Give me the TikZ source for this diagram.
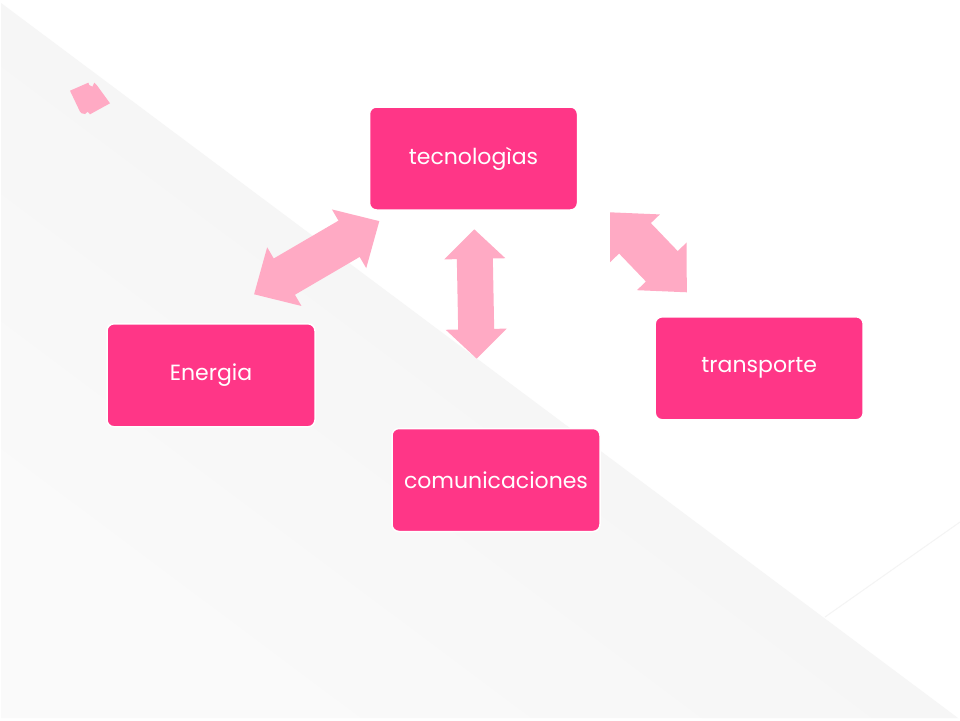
\documentclass[tikz,border=0pt]{standalone}
\usepackage{fontspec}
\setmainfont{Poppins}
\usetikzlibrary{calc}
\definecolor{boxpink}{RGB}{255,54,135}
\definecolor{arrpink}{RGB}{255,170,196}
\definecolor{bggrey}{RGB}{242,242,242}
\definecolor{bglight}{RGB}{250,250,250}
\definecolor{faintline}{RGB}{244,244,244}
\tikzset{
  catbox/.style={rectangle, rounded corners=7pt, fill=boxpink, draw=white,
    line width=1.5pt, minimum width=208pt, minimum height=103pt,
    text=white, font=\fontsize{22}{26}\selectfont, inner sep=0pt},
  pics/dblarrow/.style n args={4}{code={
    \fill[arrpink] (-#1/2,0) -- (-#1/2+#4,#3/2) -- (-#1/2+#4,#2/2)
      -- (#1/2-#4,#2/2) -- (#1/2-#4,#3/2) -- (#1/2,0)
      -- (#1/2-#4,-#3/2) -- (#1/2-#4,-#2/2) -- (-#1/2+#4,-#2/2)
      -- (-#1/2+#4,-#3/2) -- cycle;
  }}
}
\begin{document}
\begin{tikzpicture}[x=1pt,y=-1pt]
\useasboundingbox (0,0) rectangle (960,720);
\fill[white] (0,0) rectangle (960,720);
% grey diagonal background
\shade[shading=axis, top color=bggrey, middle color=bggrey, bottom color=bglight,
  shading angle=-36.8] (1,3) -- (958,718) -- (1,718) -- cycle;
\draw[faintline, line width=1pt] (825,617) -- (960,522);
% small bullet icon
\fill[arrpink] (70,90.7) -- (88.3,82.7) -- (89.3,85) -- (92.3,86.7) -- (94.3,82.7)
  -- (96.7,85) -- (110,103.3) -- (90,114.3) -- (87.7,111.7) -- (85,114)
  -- (81.7,113.3) -- (80,111.7) -- cycle;
% category boxes
\node[catbox] (tec) at (473.5,158.5) {tecnologìas};
\node[catbox] (ene) at (211,375.3) {Energia};
\node[catbox] (tra) at (759.2,368.3) {transporte};
\node[catbox] (com) at (496,480) {comunicaciones};
% double arrows
\pic[rotate=30.3] at (316.7,257.7) {dblarrow={145}{42}{68}{35}};
\pic[rotate=91.1] at (475.5,294) {dblarrow={129.4}{36}{61}{29.5}};
\pic[rotate=-46.2] at (648.4,252.3) {dblarrow={110.8}{44}{69}{36}};
\end{tikzpicture}
\end{document}
